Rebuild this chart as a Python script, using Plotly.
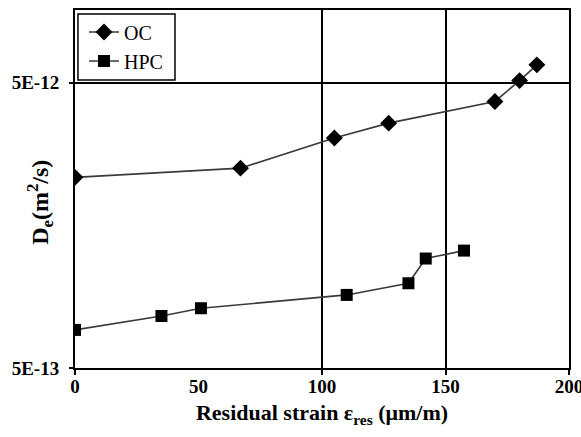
import plotly.graph_objects as go

# Residual strain (µm/m) and effective diffusion coefficient De (m²/s)
oc_strain = [0, 67, 105, 127, 170, 180, 187]
oc_de = [2.33e-12, 2.51e-12, 3.20e-12, 3.61e-12, 4.30e-12, 5.09e-12, 5.78e-12]

hpc_strain = [0, 35, 51, 110, 135, 142, 157.5]
hpc_de = [6.80e-13, 7.61e-13, 8.10e-13, 9.02e-13, 9.91e-13, 1.21e-12, 1.29e-12]

x_ticks = [0, 50, 100, 150, 200]
y_ticks = [5e-13, 5e-12]
y_tick_text = ["5E-13", "5E-12"]

serif = "Liberation Serif, Times New Roman, serif"
line_color = "#3a3a3a"

fig = go.Figure()
fig.add_trace(go.Scatter(
    x=oc_strain, y=oc_de, name="OC", mode="lines+markers",
    line=dict(color=line_color, width=1.6),
    marker=dict(symbol="diamond", size=13, color="black"),
))
fig.add_trace(go.Scatter(
    x=hpc_strain, y=hpc_de, name="HPC", mode="lines+markers",
    line=dict(color=line_color, width=1.6),
    marker=dict(symbol="square", size=12, color="black"),
))

# framed legend box
fig.add_shape(type="rect", xref="paper", yref="paper",
              x0=0.006, x1=0.2024, y0=0.8045, y1=0.9888,
              line=dict(color="black", width=1.5), fillcolor="white",
              layer="above")

fig.add_annotation(
    text="D<sub>e</sub>(m<sup>2</sup>/s)", textangle=-90,
    xref="paper", yref="paper", x=-0.071, y=0.464,
    showarrow=False, xanchor="center", yanchor="middle",
    font=dict(family=serif, size=24, color="black", weight="bold"),
)

fig.update_layout(
    width=581, height=437,
    margin=dict(l=75, r=12, t=10, b=69),
    paper_bgcolor="white", plot_bgcolor="white",
    font=dict(family=serif, color="black"),
    showlegend=True,
    legend=dict(
        x=(84 - 75) / 494, y=0.993, xanchor="left", yanchor="top",
        bgcolor="rgba(0,0,0,0)", borderwidth=0,
        font=dict(family=serif, size=20, color="black"),
        itemwidth=30, tracegroupgap=0,
    ),
    xaxis=dict(
        range=[0, 200], tickmode="array", tickvals=x_ticks,
        ticks="", showgrid=False, zeroline=False, automargin=False,
        ticklabeloverflow="allow",
        showline=True, linecolor="black", linewidth=2, mirror=True,
        tickfont=dict(family=serif, size=19, color="black", weight="bold"),
        minor=dict(tickmode="array", tickvals=[0, 100, 150, 200],
                   ticks="outside", ticklen=5, tickwidth=2, tickcolor="black",
                   showgrid=True, gridcolor="black", gridwidth=2),
        title=dict(text="Residual strain ε<sub>res</sub> (μm/m)", standoff=9,
                   font=dict(family=serif, size=22, color="black", weight="bold")),
    ),
    yaxis=dict(
        type="log", range=[-12.30103, -11.0458],
        tickmode="array", tickvals=y_ticks, ticktext=y_tick_text,
        ticks="outside", ticklen=4, tickwidth=2, tickcolor="black",
        ticklabelstandoff=6, automargin=False,
        showgrid=True, gridcolor="black", gridwidth=2, zeroline=False,
        showline=True, linecolor="black", linewidth=2, mirror=True,
        tickfont=dict(family=serif, size=19, color="black", weight="bold"),
    ),
)

fig.write_html("out.html")
